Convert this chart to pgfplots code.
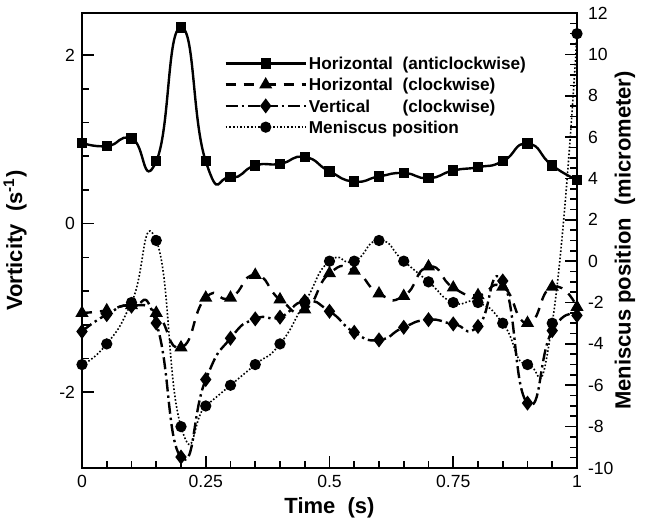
\documentclass[border=0pt]{standalone}
\usepackage{pgfplots}
\pgfplotsset{compat=1.18}
\usepackage{pgfplotstable}
\usepackage{fontspec}
\setmainfont{Liberation Sans}

% Vorticity of the three vortices (s^-1)
\pgfplotstableread{
t     hac     hc      vc
0.00  0.96   -1.06   -1.28
0.05  0.92   -1.03   -1.08
0.10  1.01   -0.97   -0.98
0.15  0.74   -1.06   -1.18
0.20  2.33   -1.47   -2.77
0.25  0.74   -0.88   -1.85
0.30  0.55   -0.88   -1.36
0.35  0.69   -0.61   -1.13
0.40  0.71   -0.90   -1.11
0.45  0.79   -1.02   -0.92
0.50  0.62   -0.59   -1.04
0.55  0.50   -0.56   -1.29
0.60  0.56   -0.83   -1.38
0.65  0.60   -0.86   -1.23
0.70  0.54   -0.51   -1.14
0.75  0.63   -0.76   -1.19
0.80  0.67   -0.85   -1.22
0.85  0.74   -0.75   -0.68
0.90  0.95   -1.18   -2.13
0.95  0.69   -0.75   -1.27
1.00  0.52   -0.99   -1.09
}\vorticity

% Meniscus position (micrometer)
\pgfplotstableread{
t     m
0.00  -5
0.05  -4
0.10  -2
0.15   1
0.20  -8
0.25  -7
0.30  -6
0.35  -5
0.40  -4
0.45  -2
0.50   0
0.55   0
0.60   1
0.65   0
0.70  -1
0.75  -2
0.80  -2
0.85  -3
0.90  -5
0.95  -3
1.00  11
}\meniscus

\pgfplotsset{
  frame/.style={
    scale only axis, width=247.5pt, height=227.5pt,
    xmin=0, xmax=1,
    axis line style={line width=1.4pt},
    tick style={line width=0.8pt, black},
    tick align=inside,
    major tick length=6pt, minor tick length=3.5pt,
    tick label style={font=\fontsize{8.8}{10}\selectfont},
    /pgf/number format/assume math mode=true,
    label style={font=\fontsize{11}{13}\selectfont\bfseries},
    clip mode=individual,
  },
  spl/.style={smooth, tension=1},
  hac/.style={black, line width=1.2pt, spl, mark=square*, mark size=2pt, mark options={solid}},
  hc/.style={black, line width=1.2pt, spl, dash pattern=on 5pt off 4pt, mark=triangle*, mark size=2.6pt, mark options={solid}},
  vc/.style={black, line width=1.2pt, spl, dash pattern=on 6pt off 2pt on 1.2pt off 2pt, mark=diamond*, mark size=2.8pt, mark options={solid}},
  men/.style={black, line width=0.8pt, spl, densely dotted, mark=*, mark size=2.4pt, mark options={solid}},
  longline/.style={legend image code/.code={
    \draw[##1] (0pt,0pt) -- (20pt,0pt) plot coordinates {(20pt,0pt)} -- (40pt,0pt);}},
}

\newcommand{\colA}[1]{\makebox[5.45em][l]{#1}}

\begin{document}
\begin{tikzpicture}
\begin{axis}[
  frame, name=main,
  ymin=-2.9, ymax=2.5,
  xtick={0,0.25,0.5,0.75,1},
  xticklabels={0,0.25,0.5,0.75,1},
  minor x tick num=4,
  ytick={-2,0,2},
  minor y tick num=4,
  xtick pos=bottom, ytick pos=left,
  xlabel={Time\ \ (s)},
  ylabel={Vorticity\ \ (s\textsuperscript{-1})},
  xlabel style={at={(axis description cs:0.5,-0.088)}, anchor=center},
  ylabel style={at={(axis description cs:-0.135,0.5)}, anchor=center, rotate=0},
]
\addplot[hac] table[x=t, y=hac] {\vorticity};
\addplot[hc]  table[x=t, y=hc]  {\vorticity};
\addplot[vc]  table[x=t, y=vc]  {\vorticity};
\end{axis}

\begin{axis}[
  frame,
  ymin=-10, ymax=12,
  axis x line=none,
  axis y line*=right,
  ytick={-10,-8,...,12},
  minor y tick num=3,
  yticklabel style={xshift=2pt},
  ylabel={Meniscus position\ \ (micrometer)},
  ylabel style={at={(axis description cs:1.097,0.5)}, anchor=center},
  legend style={draw=none, fill=none, at={(axis description cs:0.275,0.917)}, anchor=north west,
    font=\fontsize{8.6}{10}\selectfont\bfseries, row sep=2.4pt,
    nodes={inner sep=1pt, text depth=0pt}},
  legend cell align=left,
  longline,
]
\addlegendimage{hac, sharp plot}
\addlegendentry{\colA{Horizontal}(anticlockwise)}
\addlegendimage{hc, sharp plot}
\addlegendentry{\colA{Horizontal}(clockwise)}
\addlegendimage{vc, sharp plot}
\addlegendentry{\colA{Vertical}(clockwise)}
\addplot[men] table[x=t, y=m] {\meniscus};
\addlegendentry{Meniscus position}
\end{axis}

\pgfresetboundingbox
\path ([shift={(-41pt,-27.5pt)}]main.south west) rectangle ([shift={(36pt,6.5pt)}]main.north east);
\end{tikzpicture}
\end{document}
